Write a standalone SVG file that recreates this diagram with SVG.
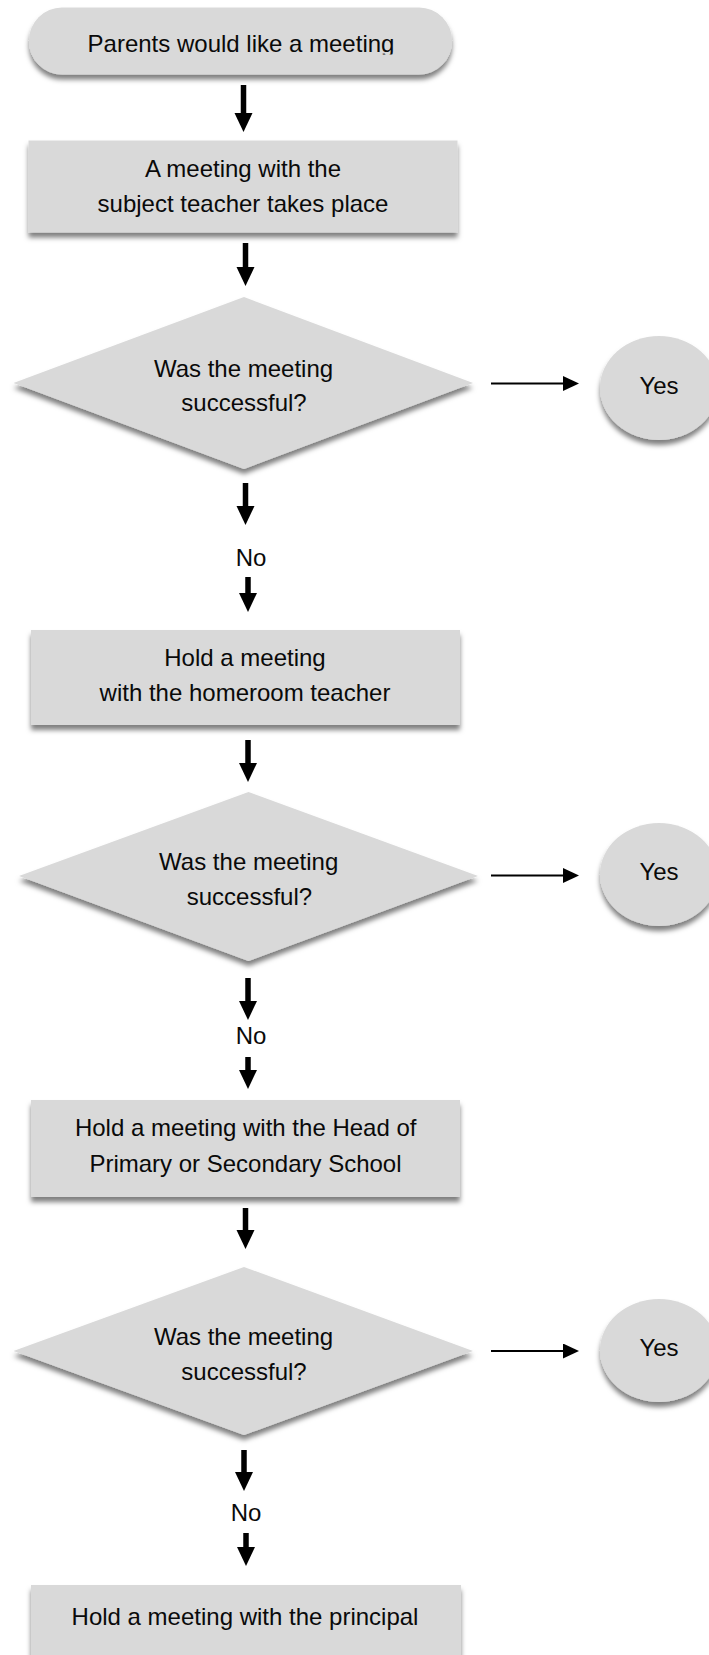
<svg xmlns="http://www.w3.org/2000/svg" width="709" height="1655" viewBox="0 0 709 1655">
<style>
.shape{fill:#d9d9d9;filter:url(#sh);}
.t{font-family:"Liberation Sans",Arial,Helvetica,sans-serif;font-size:24px;fill:#0a0a0a;text-anchor:middle;}
.thick{stroke:#000;stroke-width:5.5;fill:none;marker-end:url(#ah);}
.thin{stroke:#000;stroke-width:2;fill:none;marker-end:url(#as);}
</style>
<defs>
<filter id="sh" x="-10%" y="-20%" width="120%" height="150%">
<feDropShadow dx="0" dy="5" stdDeviation="2.5" flood-color="#000" flood-opacity="0.5"/>
</filter>
<marker id="ah" markerUnits="userSpaceOnUse" markerWidth="19" markerHeight="19" refX="1" refY="9" orient="auto">
<path d="M0,0 L19,9 L0,18 Z" fill="#000"/>
</marker>
<marker id="as" markerUnits="userSpaceOnUse" markerWidth="17" markerHeight="16" refX="1" refY="7.5" orient="auto">
<path d="M0,0 L16,7.5 L0,15 Z" fill="#000"/>
</marker>
<clipPath id="clipStart"><rect x="0" y="0" width="709" height="54.5"/></clipPath>
</defs>

<g id="connectors">
<line class="thick" x1="243.5" y1="85" x2="243.5" y2="114"/>
<line class="thick" x1="245.5" y1="243" x2="245.5" y2="268"/>
<line class="thick" x1="245.5" y1="483" x2="245.5" y2="507"/>
<line class="thick" x1="248" y1="577" x2="248" y2="594"/>
<line class="thick" x1="248" y1="740" x2="248" y2="764"/>
<line class="thick" x1="248" y1="978" x2="248" y2="1002"/>
<line class="thick" x1="248" y1="1057" x2="248" y2="1071"/>
<line class="thick" x1="245.5" y1="1208" x2="245.5" y2="1231"/>
<line class="thick" x1="244" y1="1450" x2="244" y2="1473"/>
<line class="thick" x1="246" y1="1533" x2="246" y2="1548"/>
<line class="thin" x1="491" y1="383.5" x2="564" y2="383.5"/>
<line class="thin" x1="491" y1="875.5" x2="564" y2="875.5"/>
<line class="thin" x1="491" y1="1351" x2="564" y2="1351"/>
<text class="t" x="251" y="566">No</text>
<text class="t" x="251" y="1044">No</text>
<text class="t" x="246" y="1521">No</text>
</g>

<g id="start">
<rect class="shape" x="29" y="7.5" width="423" height="67" rx="33" ry="33"/>
<text class="t" x="241" y="52" clip-path="url(#clipStart)">Parents would like a meeting</text>
</g>

<g id="step1">
<rect class="shape" x="28.5" y="140.5" width="429" height="92"/>
<text class="t" x="243" y="177">A meeting with the</text>
<text class="t" x="243" y="211.5">subject teacher takes place</text>
</g>

<g id="decision1">
<polygon class="shape" points="244,297 473,383 244,469 13.5,383"/>
<text class="t" x="243.5" y="377">Was the meeting</text>
<text class="t" x="244" y="411">successful?</text>
</g>

<g id="yes1">
<ellipse class="shape" cx="659" cy="388" rx="59" ry="52"/>
<text class="t" x="659" y="393.5">Yes</text>
</g>

<g id="step2">
<rect class="shape" x="31" y="630" width="429" height="95"/>
<text class="t" x="245" y="666">Hold a meeting</text>
<text class="t" x="245" y="700.5">with the homeroom teacher</text>
</g>

<g id="decision2">
<polygon class="shape" points="248.5,792 478,876 248.5,961 19,876"/>
<text class="t" x="248.7" y="870">Was the meeting</text>
<text class="t" x="249.4" y="905">successful?</text>
</g>

<g id="yes2">
<ellipse class="shape" cx="659" cy="874.5" rx="59" ry="51.5"/>
<text class="t" x="659" y="880">Yes</text>
</g>

<g id="step3">
<rect class="shape" x="31" y="1100" width="429" height="97"/>
<text class="t" x="245.7" y="1136">Hold a meeting with the Head of</text>
<text class="t" x="245.5" y="1171.5">Primary or Secondary School</text>
</g>

<g id="decision3">
<polygon class="shape" points="244,1267 473,1351 244,1435 13.5,1351"/>
<text class="t" x="243.5" y="1345">Was the meeting</text>
<text class="t" x="244" y="1380">successful?</text>
</g>

<g id="yes3">
<ellipse class="shape" cx="659" cy="1350.5" rx="59" ry="51.5"/>
<text class="t" x="659" y="1356">Yes</text>
</g>

<g id="step4">
<rect class="shape" x="31" y="1585" width="430" height="95"/>
<text class="t" x="245" y="1625">Hold a meeting with the principal</text>
</g>
</svg>
